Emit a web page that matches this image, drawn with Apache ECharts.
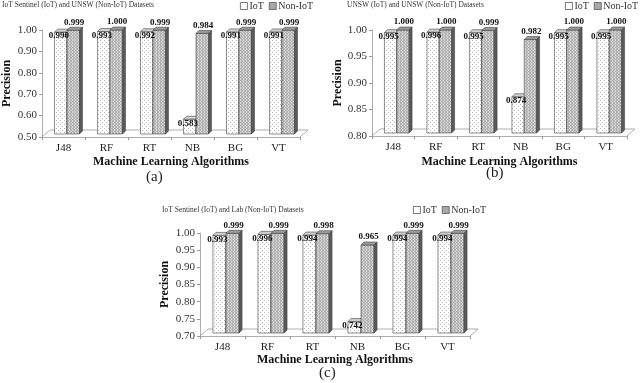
<!DOCTYPE html>
<html>
<head>
<meta charset="utf-8">
<script src="https://cdn.jsdelivr.net/npm/echarts@6/dist/echarts.min.js"></script>
<style>
  html, body { margin: 0; padding: 0; background: #fff; }
  #chart { width: 640px; height: 383px; }
</style>
</head>
<body>
<div id="chart"></div>
<script>
const categories = ['J48', 'RF', 'RT', 'NB', 'BG', 'VT']

// (a) IoT Sentinel (IoT) and UNSW (Non-IoT)
const iotA = [0.990, 0.993, 0.992, 0.583, 0.991, 0.991]
const nonIotA = [0.999, 1.000, 0.999, 0.984, 0.999, 0.999]
// (b) UNSW (IoT) and UNSW (Non-IoT)
const iotB = [0.995, 0.996, 0.995, 0.874, 0.995, 0.995]
const nonIotB = [1.000, 1.000, 0.999, 0.982, 1.000, 1.000]
// (c) IoT Sentinel (IoT) and Lab (Non-IoT)
const iotC = [0.993, 0.996, 0.994, 0.742, 0.994, 0.994]
const nonIotC = [0.999, 0.999, 0.998, 0.965, 0.999, 0.999]

const titles = [
  'IoT Sentinel (IoT) and UNSW (Non-IoT) Datasets',
  'UNSW (IoT) and UNSW (Non-IoT) Datasets',
  'IoT Sentinel (IoT) and Lab (Non-IoT) Datasets',
]
const panelLetters = ['(a)', '(b)', '(c)']
const yRanges = [
  { min: 0.5, max: 1.0, interval: 0.1 },
  { min: 0.8, max: 1.0, interval: 0.05 },
  { min: 0.7, max: 1.0, interval: 0.05 },
]

const SERIF = '"Liberation Serif", "DejaVu Serif", serif'

// small fill textures like the excel patterns
const makePattern = (bg, dot, size, dots) => {
  const c = document.createElement('canvas')
  c.width = size
  c.height = size
  const ctx = c.getContext('2d')
  ctx.fillStyle = bg
  ctx.fillRect(0, 0, size, size)
  ctx.fillStyle = dot
  dots.forEach(([x, y]) => ctx.fillRect(x, y, 1, 1))
  return { image: c, repeat: 'repeat' }
}
const iotFill = makePattern('#ffffff', '#b8b8b8', 4, [[0, 0], [2, 2]])
const nonIotFill = makePattern('#b4b4b4', '#d6d6d6', 3, [[0, 0], [0, 1], [2, 2]])

const DEPTH = 3

const makeBars = (kind, yMin) => (params, api) => {
  const idx = api.value(0)
  const v = api.value(1)
  const p = api.coord([idx, v])
  const base = api.coord([idx, yMin])
  const band = api.size([1, 0])[0]
  const bw = band * 0.29
  const cx = p[0] + 3.5
  const x0 = kind === 'iot' ? cx - bw : cx
  const x1 = x0 + bw
  const top = p[1]
  const bottom = base[1] - 3
  const d = DEPTH
  const stroke = { stroke: '#444', lineWidth: 0.6 }
  const children = [
    {
      type: 'rect',
      shape: { x: x0, y: top, width: bw, height: bottom - top },
      style: { fill: kind === 'iot' ? iotFill : nonIotFill, ...stroke },
    },
    {
      type: 'polygon',
      shape: { points: [[x0, top], [x1, top], [x1 + d, top - d], [x0 + d, top - d]] },
      style: { fill: kind === 'iot' ? '#d0d0d0' : '#9a9a9a', ...stroke },
    },
    {
      type: 'polygon',
      shape: { points: [[x1, top], [x1 + d, top - d], [x1 + d, bottom - d], [x1, bottom]] },
      style: { fill: kind === 'iot' ? '#bdbdbd' : '#5a5a5a', ...stroke },
    },
    {
      type: 'text',
      z2: 100,
      style: {
        text: v.toFixed(3),
        x: kind === 'iot' ? x0 + bw / 2 - 2 : x0 + bw / 2 + 1,
        y: kind === 'iot' ? top + 4 : top - 8,
        align: 'center',
        verticalAlign: 'middle',
        font: 'bold 9px ' + SERIF,
        fill: '#111',
      },
    },
  ]
  return { type: 'group', children }
}

const makeFloor = (yMin) => (params, api) => {
  const p = api.coord([0, yMin])
  const band = api.size([1, 0])[0]
  const xL = p[0] - band / 2
  const xR = xL + band * categories.length
  const y = p[1]
  return {
    type: 'polyline',
    shape: { points: [[xL, y], [xL + 8, y - 7], [xR + 8, y - 7], [xR, y]] },
    style: { stroke: '#999', lineWidth: 0.8, fill: null },
  }
}

const panels = [
  { iot: iotA, non: nonIotA, grid: { left: 40, top: 30, width: 260, height: 107 },
    nameGapX: 19, nameGapY: 29, titlePos: [2, 1], legendPos: [240, 1], letterPos: [154, 170] },
  { iot: iotB, non: nonIotB, grid: { left: 372, top: 30, width: 255, height: 106 },
    nameGapX: 20, nameGapY: 21, titlePos: [347, 1], legendPos: [565, 1], letterPos: [494, 166] },
  { iot: iotC, non: nonIotC, grid: { left: 200, top: 233, width: 270, height: 103 },
    nameGapX: 16, nameGapY: 29, titlePos: [162, 206], legendPos: [413, 205], letterPos: [327, 366] },
]

const chartDom = document.getElementById('chart')
const myChart = echarts.init(chartDom)

const option = {
  backgroundColor: '#fff',
  animation: false,
  title: panels.flatMap((pn, i) => [
    {
      text: titles[i],
      left: pn.titlePos[0],
      top: pn.titlePos[1],
      padding: 0,
      textStyle: { fontFamily: SERIF, fontSize: 7.5, fontWeight: 'normal', color: '#333' },
    },
    {
      text: panelLetters[i],
      left: pn.letterPos[0] - 8,
      top: pn.letterPos[1],
      padding: 0,
      textStyle: { fontFamily: SERIF, fontSize: 15, fontWeight: 'normal', color: '#222' },
    },
  ]),
  legend: panels.map((pn) => ({
    left: pn.legendPos[0],
    top: pn.legendPos[1],
    padding: 0,
    icon: 'rect',
    itemWidth: 7,
    itemHeight: 7,
    itemGap: 5,
    selectedMode: false,
    textStyle: { fontFamily: SERIF, fontSize: 10, color: '#333', padding: [0, 0, 0, -3] },
    data: [
      { name: 'IoT', itemStyle: { color: '#fff', borderColor: '#555', borderWidth: 0.8 } },
      { name: 'Non-IoT', itemStyle: { color: '#a8a8a8', borderColor: '#555', borderWidth: 0.8 } },
    ],
  })),
  grid: panels.map((pn) => ({ ...pn.grid, containLabel: false })),
  xAxis: panels.map((pn, i) => ({
    type: 'category',
    gridIndex: i,
    data: categories,
    name: 'Machine Learning Algorithms',
    nameLocation: 'middle',
    nameGap: pn.nameGapX,
    nameTextStyle: { fontFamily: SERIF, fontSize: 12, fontWeight: 'bold', color: '#111' },
    axisLine: { show: true, lineStyle: { color: '#999', width: 0.8 } },
    axisTick: { show: true, length: 3, lineStyle: { color: '#999' } },
    axisLabel: { fontFamily: SERIF, fontSize: 11, color: '#222', margin: 6 },
    splitLine: { show: false },
  })),
  yAxis: panels.map((pn, i) => ({
    type: 'value',
    gridIndex: i,
    ...yRanges[i],
    name: 'Precision',
    nameLocation: 'middle',
    nameGap: pn.nameGapY,
    nameTextStyle: { fontFamily: SERIF, fontSize: 12, fontWeight: 'bold', color: '#111' },
    axisLine: { show: true, lineStyle: { color: '#999', width: 0.8 } },
    axisTick: { show: true, length: 3, lineStyle: { color: '#999' } },
    axisLabel: {
      fontFamily: SERIF,
      fontSize: 11,
      color: '#333',
      margin: 5,
      formatter: (v) => v.toFixed(2),
    },
    splitLine: { show: false },
  })),
  series: panels.flatMap((pn, i) => [
    {
      type: 'custom',
      name: 'floor' + i,
      xAxisIndex: i,
      yAxisIndex: i,
      silent: true,
      clip: false,
      z: 1,
      data: [[0, yRanges[i].min]],
      renderItem: makeFloor(yRanges[i].min),
    },
    {
      type: 'custom',
      name: 'IoT',
      xAxisIndex: i,
      yAxisIndex: i,
      clip: false,
      z: 2,
      itemStyle: { color: '#fff', borderColor: '#555' },
      data: pn.iot.map((v, k) => [k, v]),
      renderItem: makeBars('iot', yRanges[i].min),
    },
    {
      type: 'custom',
      name: 'Non-IoT',
      xAxisIndex: i,
      yAxisIndex: i,
      clip: false,
      z: 2,
      itemStyle: { color: '#a8a8a8', borderColor: '#555' },
      data: pn.non.map((v, k) => [k, v]),
      renderItem: makeBars('non', yRanges[i].min),
    },
  ]),
}

myChart.setOption(option)
</script>
</body>
</html>
